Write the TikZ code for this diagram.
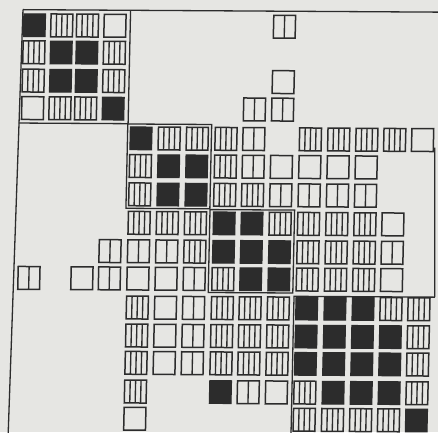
\documentclass[tikz,border=0pt]{standalone}
\usepackage{tikz}
\definecolor{paper}{RGB}{230,230,227}
\definecolor{ink}{RGB}{44,44,44}
\def\colX{{0,35,62.3,88,115.5,144,172.2,200.3,229,256.8,285,313.4,341.7,369.8,397.7,425.6}}
\def\rowY{{0,25.05,52.1,80.4,107.9,137.5,165.2,193.5,222,250.4,277.7,306.7,334.7,362,390.7,417.9}}
\newcommand\mycellpos[2]{\pgfmathsetmacro\cx{\colX[#1]}\pgfmathsetmacro\cy{\rowY[#2]}}
\tikzset{
  cellline/.style={draw=ink, line width=1.5pt},
  hatchline/.style={draw=ink, line width=1.35pt},
  blackcell/.style={fill=ink, draw=ink, line width=1pt},
  frameline/.style={draw=ink, line width=1.3pt}
}
\def\hw{10.9}
\def\hh{11.4}
\begin{document}
\begin{tikzpicture}[x=1pt,y=-1pt]
\useasboundingbox (0,0) rectangle (438,432);
\fill[paper] (0,0) rectangle (438,432);
\clip (0,0) rectangle (438,432);
\begin{scope}[cm={1,-0.006,0.022,1,(0,0)}]
% frames
\draw[frameline] (23.2,9.5) -- (470,9.5);
\draw[frameline] (23.2,9.5) -- (17.5,450);
\draw[frameline] (438,145) -- (441.3,294.5);
\draw[frameline] (130.8,9.5) -- (130.8,122.9);
\draw[frameline] (21.7,122.9) -- (130.8,122.9);
\draw[frameline] (130.5,123.2) rectangle (214.4,207.5);
\draw[frameline] (214.6,208.3) rectangle (299.2,291.2);
\draw[frameline] (441.3,294.5) -- (300.5,294.5) -- (300.5,460);
% black cells
\foreach \c/\r in {1/1,2/2,3/2,2/3,3/3,4/4,5/5,6/6,7/6,6/7,7/7,8/8,9/8,8/9,9/9,10/9,9/10,10/10,
  11/11,12/11,13/11,11/12,12/12,13/12,14/12,11/13,12/13,13/13,14/13,8/14,12/14,13/14,14/14,15/15}{
  \mycellpos{\c}{\r}
  \filldraw[blackcell] (\cx-\hw,\cy-\hh) rectangle (\cx+\hw,\cy+\hh);
}
% dense hatched cells
\foreach \c/\r in {2/1,3/1,1/2,4/2,1/3,4/3,2/4,3/4,
  6/5,7/5,8/5,11/5,12/5,13/5,14/5,5/6,8/6,5/7,8/7,9/7,
  5/8,6/8,7/8,10/8,11/8,12/8,13/8,7/9,11/9,12/9,13/9,8/10,11/10,12/10,13/10,
  5/11,8/11,9/11,10/11,14/11,15/11,5/12,8/12,9/12,10/12,15/12,5/13,8/13,9/13,10/13,15/13,
  5/14,11/14,15/14,11/15,12/15,13/15,14/15}{
  \mycellpos{\c}{\r}
  \draw[cellline] (\cx-\hw,\cy-\hh) rectangle (\cx+\hw,\cy+\hh);
  \foreach \k in {-5.4,0,5.4}{
    \draw[hatchline] (\cx+\k,\cy-\hh) -- (\cx+\k,\cy+\hh);
  }
}
% single-line cells
\foreach \c/\r in {10/1,9/4,10/4,9/5,9/6,10/7,11/7,12/7,13/7,4/9,5/9,6/9,14/9,1/10,4/10,7/10,7/11,7/12,7/13,9/14}{
  \mycellpos{\c}{\r}
  \draw[cellline] (\cx-\hw,\cy-\hh) rectangle (\cx+\hw,\cy+\hh);
  \draw[hatchline] (\cx,\cy-\hh) -- (\cx,\cy+\hh);
}
% empty cells
\foreach \c/\r in {4/1,10/3,1/4,15/5,10/6,11/6,12/6,13/6,14/8,3/10,5/10,6/10,14/10,6/11,6/12,6/13,10/14,5/15}{
  \mycellpos{\c}{\r}
  \draw[cellline] (\cx-\hw,\cy-\hh) rectangle (\cx+\hw,\cy+\hh);
}
\end{scope}
\end{tikzpicture}
\end{document}
